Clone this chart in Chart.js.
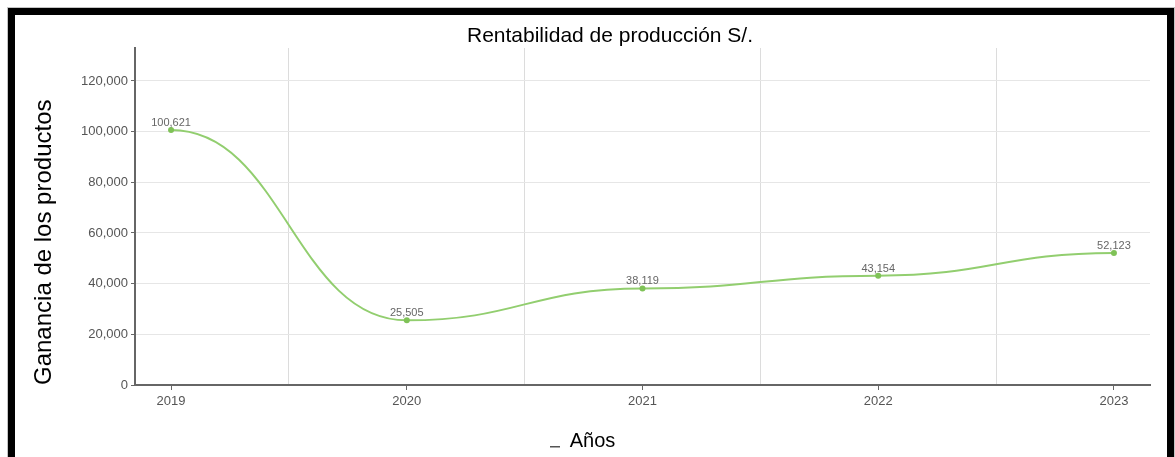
<!DOCTYPE html>
<html lang="es">
<head>
<meta charset="utf-8">
<title>Rentabilidad de producción</title>
<script src="https://cdn.jsdelivr.net/npm/chart.js@4.4.1/dist/chart.umd.min.js"></script>
<style>
  html, body { margin: 0; padding: 0; background: #fff; overflow: hidden; }
  .frame {
    position: absolute; left: 8px; top: 8px;
    width: 1152px; height: 460px;
    border: 7px solid #000; border-bottom: none;
    box-shadow: 0 0 0 1px #c4c4c4;
  }
  .frame canvas { display: block; }
</style>
</head>
<body>
<div class="frame">
  <canvas id="profitChart" width="1152" height="450"></canvas>
</div>
<script>
// Yearly production profit (S/.)
const chartTitle = 'Rentabilidad de producción S/.';
const years = ['2019', '2020', '2021', '2022', '2023'];
const profits = [100621, 25505, 38119, 43154, 52123];
const yTicks = [0, 20000, 40000, 60000, 80000, 100000, 120000];

Chart.defaults.font.family = '"Liberation Sans", Arial, sans-serif';

// years sit on whole numbers, grid lines go between them
const xTickPositions = years.map((_, i) => i);
const xGridPositions = years.slice(1).map((_, i) => i + 0.5);
const fmt = v => v.toLocaleString('en-US');

// small dash for the legend, sitting low like an underline
const legendDash = document.createElement('canvas');
legendDash.width = 10;
legendDash.height = 16;
(() => {
  const c = legendDash.getContext('2d');
  c.fillStyle = '#555';
  c.fillRect(0, 13, 10, 1.5);
})();

// title drawn by hand so it can sit off-centre
const titlePlugin = {
  id: 'chartTitle',
  afterDraw(chart) {
    const { ctx } = chart;
    ctx.save();
    ctx.font = '21px "Liberation Sans", Arial, sans-serif';
    ctx.fillStyle = '#000';
    ctx.textAlign = 'center';
    ctx.textBaseline = 'alphabetic';
    ctx.fillText(chartTitle, 595, 27);
    ctx.restore();
  }
};

// S-shaped segments: every point gets a flat tangent
const flatTangents = {
  id: 'flatTangents',
  beforeDatasetDraw(chart, args) {
    const pts = args.meta.data;
    const k = 0.47;
    pts.forEach((p, i) => {
      const prev = pts[i - 1];
      const next = pts[i + 1];
      p.cp1x = prev ? p.x - (p.x - prev.x) * k : p.x;
      p.cp1y = p.y;
      p.cp2x = next ? p.x + (next.x - p.x) * k : p.x;
      p.cp2y = p.y;
    });
    args.meta.dataset._pointsUpdated = true;
    args.meta.dataset._path = undefined;
  }
};

// value above each point
const valueLabels = {
  id: 'valueLabels',
  afterDatasetsDraw(chart) {
    const { ctx } = chart;
    const points = chart.getDatasetMeta(0).data;
    ctx.save();
    ctx.font = '11px "Liberation Sans", Arial, sans-serif';
    ctx.fillStyle = '#666';
    ctx.textAlign = 'center';
    ctx.textBaseline = 'alphabetic';
    points.forEach((pt, i) => ctx.fillText(fmt(profits[i]), pt.x, pt.y - 4));
    ctx.restore();
  }
};

new Chart(document.getElementById('profitChart'), {
  type: 'line',
  data: {
    datasets: [{
      label: 'Años',
      data: profits.map((v, i) => ({ x: i, y: v })),
      borderColor: '#92ce6f',
      backgroundColor: '#7fc257',
      borderWidth: 2,
      tension: 0.4,
      pointRadius: 3,
      pointBackgroundColor: '#7fc257',
      pointBorderWidth: 0,
      fill: false
    }]
  },
  options: {
    responsive: false,
    animation: false,
    layout: { padding: { left: 0, right: 17, top: 33, bottom: 4 } },
    scales: {
      x: {
        type: 'linear',
        min: -0.153,
        max: 4.153,
        afterBuildTicks: axis => {
          axis.ticks = [...xTickPositions, ...xGridPositions]
            .sort((a, b) => a - b)
            .map(v => ({ value: v }));
        },
        afterFit: axis => { axis.height = 42; },
        border: { color: '#666', width: 2 },
        grid: {
          color: c => Number.isInteger(c.tick.value) ? 'rgba(0,0,0,0)' : '#dcdcdc',
          tickColor: c => Number.isInteger(c.tick.value) ? '#666' : 'rgba(0,0,0,0)',
          tickLength: 5
        },
        ticks: {
          autoSkip: false,
          maxRotation: 0,
          padding: 4,
          color: '#555',
          font: { size: 13 },
          callback: v => Number.isInteger(v) ? years[v] : ''
        }
      },
      y: {
        min: 0,
        max: 133000,
        afterBuildTicks: axis => { axis.ticks = yTicks.map(v => ({ value: v })); },
        afterFit: axis => { axis.width = 120; },
        border: { color: '#666', width: 2 },
        grid: { color: '#e6e6e6', tickColor: '#666', tickLength: 4 },
        ticks: {
          color: '#555',
          font: { size: 13 },
          padding: 3,
          callback: v => fmt(v)
        },
        title: {
          display: true,
          text: 'Ganancia de los productos',
          align: 'start',
          color: '#000',
          font: { size: 24 },
          padding: { top: 15, bottom: 0 }
        }
      }
    },
    plugins: {
      legend: {
        position: 'bottom',
        labels: {
          usePointStyle: true,
          pointStyleWidth: 10,
          padding: 4,
          color: '#000',
          font: { size: 20 },
          generateLabels: chart => [{
            text: chart.data.datasets[0].label,
            pointStyle: legendDash,
            strokeStyle: '#555',
            fillStyle: '#555',
            lineWidth: 0,
            datasetIndex: 0
          }]
        }
      },
      tooltip: { enabled: false }
    }
  },
  plugins: [titlePlugin, flatTangents, valueLabels]
});
</script>
</body>
</html>
